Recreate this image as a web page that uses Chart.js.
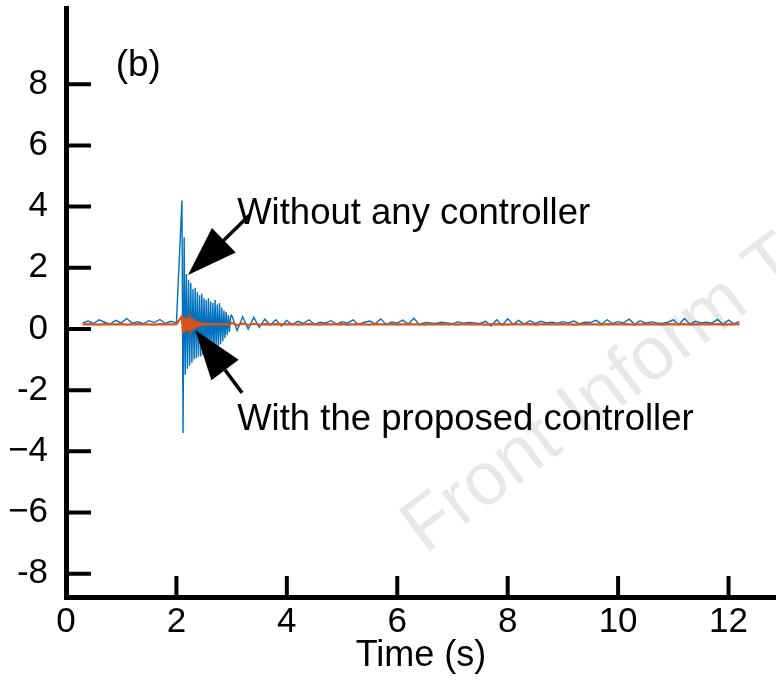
<!DOCTYPE html>
<html>
<head>
<meta charset="utf-8">
<script src="https://cdn.jsdelivr.net/npm/chart.js@4.4.1/dist/chart.umd.min.js"></script>
<style>
  html, body { margin: 0; padding: 0; background: #fff; }
</style>
</head>
<body>
<canvas id="myChart" width="776" height="680"></canvas>
<script>
// sample times (s): coarse before the disturbance, fine through it, coarse after
const timeValues = [
  0.3, 0.4, 0.5, 0.6, 0.7, 0.8, 0.9, 1.0, 1.1, 1.2, 1.3, 1.4, 1.5, 1.6, 1.7, 1.8, 1.9, 2.0,
  2.1, 2.12, 2.14, 2.16, 2.18, 2.2, 2.22, 2.24, 2.26, 2.28, 2.3, 2.32, 2.34, 2.36, 2.38,
  2.4, 2.42, 2.44, 2.46, 2.48, 2.5, 2.52, 2.54, 2.56, 2.58, 2.6, 2.62, 2.64, 2.66, 2.68,
  2.7, 2.72, 2.74, 2.76, 2.78, 2.8, 2.82, 2.84, 2.86, 2.88, 2.9, 2.92, 2.94, 2.96, 2.98,
  3.0, 3.1, 3.2, 3.3, 3.4, 3.5, 3.6, 3.7, 3.8, 3.9,
  4.0, 4.1, 4.2, 4.3, 4.4, 4.5, 4.6, 4.7, 4.8, 4.9,
  5.0, 5.1, 5.2, 5.3, 5.4, 5.5, 5.6, 5.7, 5.8, 5.9,
  6.0, 6.1, 6.2, 6.3, 6.4, 6.5, 6.6, 6.7, 6.8, 6.9,
  7.0, 7.1, 7.2, 7.3, 7.4, 7.5, 7.6, 7.7, 7.8, 7.9,
  8.0, 8.1, 8.2, 8.3, 8.4, 8.5, 8.6, 8.7, 8.8, 8.9,
  9.0, 9.1, 9.2, 9.3, 9.4, 9.5, 9.6, 9.7, 9.8, 9.9,
  10.0, 10.1, 10.2, 10.3, 10.4, 10.5, 10.6, 10.7, 10.8, 10.9,
  11.0, 11.1, 11.2, 11.3, 11.4, 11.5, 11.6, 11.7, 11.8, 11.9,
  12.0, 12.1, 12.2
];

const withoutController = [
  0.2, 0.26, 0.18, 0.3, 0.22, 0.16, 0.28, 0.2, 0.34, 0.19, 0.24, 0.17, 0.27, 0.21, 0.31, 0.18, 0.25, 0.2,
  4.2, -3.4, 3.0, -1.5, 1.8, -1.3, 1.6, -1.2, 1.5, -1.1, 1.3, -1.0, 1.35, -0.95, 1.2,
  -0.9, 1.1, -0.9, 1.15, -0.85, 1.0, -0.8, 0.95, -0.8, 1.0, -0.75, 0.9, -0.7, 0.85, -0.65,
  0.95, -0.6, 0.8, -0.55, 0.85, -0.5, 0.7, -0.4, 0.6, -0.3, 0.55, -0.2, 0.45, -0.1, 0.4,
  0.45, -0.05, 0.4, 0.0, 0.38, 0.05, 0.32, 0.12, 0.3, 0.1,
  0.28, 0.14, 0.25, 0.18, 0.3, 0.15, 0.22, 0.2, 0.27, 0.16,
  0.24, 0.19, 0.3, 0.14, 0.22, 0.26, 0.17, 0.33, 0.15, 0.23,
  0.19, 0.29, 0.16, 0.35, 0.14, 0.21, 0.2, 0.18, 0.22, 0.2,
  0.17, 0.23, 0.19, 0.21, 0.2, 0.18, 0.25, 0.1, 0.3, 0.12,
  0.33, 0.15, 0.28, 0.16, 0.27, 0.18, 0.25, 0.2, 0.22, 0.19,
  0.24, 0.2, 0.26, 0.17, 0.22, 0.21, 0.28, 0.16, 0.3, 0.18,
  0.24, 0.2, 0.32, 0.15, 0.27, 0.19, 0.23, 0.2, 0.18, 0.22,
  0.3, 0.14, 0.34, 0.16, 0.25, 0.2, 0.22, 0.19, 0.31, 0.15,
  0.29, 0.17, 0.24
];

const withProposed = [
  0.15, 0.16, 0.15, 0.14, 0.16, 0.15, 0.15, 0.16, 0.14, 0.15, 0.16, 0.15, 0.15, 0.14, 0.16, 0.15, 0.15, 0.16,
  0.42, -0.13, 0.38, -0.1, 0.33, -0.05, 0.3, 0.0, 0.27, 0.04, 0.24, 0.07, 0.22, 0.09, 0.2,
  0.11, 0.19, 0.12, 0.18, 0.13, 0.17, 0.14, 0.17, 0.14, 0.16, 0.15, 0.16, 0.15, 0.16, 0.15,
  0.15, 0.16, 0.15, 0.15, 0.16, 0.14, 0.15, 0.16, 0.15, 0.15, 0.14, 0.16, 0.15, 0.15, 0.16,
  0.2, 0.12, 0.18, 0.13, 0.17, 0.14, 0.16, 0.15, 0.16, 0.15,
  0.15, 0.16, 0.14, 0.15, 0.16, 0.15, 0.14, 0.16, 0.15, 0.15,
  0.16, 0.14, 0.15, 0.16, 0.15, 0.14, 0.16, 0.15, 0.15, 0.16,
  0.14, 0.15, 0.16, 0.15, 0.15, 0.14, 0.16, 0.15, 0.16, 0.15,
  0.15, 0.14, 0.16, 0.15, 0.15, 0.16, 0.14, 0.15, 0.16, 0.15,
  0.14, 0.16, 0.15, 0.15, 0.16, 0.14, 0.15, 0.16, 0.15, 0.15,
  0.16, 0.15, 0.14, 0.15, 0.16, 0.15, 0.15, 0.14, 0.16, 0.15,
  0.15, 0.16, 0.15, 0.14, 0.15, 0.16, 0.15, 0.15, 0.14, 0.16,
  0.15, 0.15, 0.16, 0.14, 0.15, 0.16, 0.15, 0.15, 0.16, 0.14,
  0.15, 0.16, 0.15
];

const xTicks = [0, 2, 4, 6, 8, 10, 12];
const yTicks = [-8, -6, -4, -2, 0, 2, 4, 6, 8];
const yTickLabels = ["-8", "\u22126", "\u22124", "-2", "0", "2", "4", "6", "8"];

// text labels and arrows, placed in data units (time, value)
const notes = [
  { text: "Without any controller", x: 3.1, y: 3.43, tailX: 3.33, tailY: 3.73, tipX: 2.21, tipY: 1.76 },
  { text: "With the proposed controller", x: 3.1, y: -3.3, tailX: 3.19, tailY: -2.09, tipX: 2.34, tipY: -0.03 }
];

const FONT = "'Liberation Sans', Arial, Helvetica, sans-serif";

function drawArrow(ctx, x1, y1, x2, y2) {
  const ang = Math.atan2(y2 - y1, x2 - x1);
  const headLen = 50, headHalf = 17;
  const bx = x2 - headLen * Math.cos(ang);
  const by = y2 - headLen * Math.sin(ang);
  ctx.strokeStyle = "#000";
  ctx.lineWidth = 3.5;
  ctx.beginPath();
  ctx.moveTo(x1, y1);
  ctx.lineTo(bx, by);
  ctx.stroke();
  ctx.fillStyle = "#000";
  ctx.beginPath();
  ctx.moveTo(x2, y2);
  ctx.lineTo(bx + headHalf * Math.sin(ang), by - headHalf * Math.cos(ang));
  ctx.lineTo(bx - headHalf * Math.sin(ang), by + headHalf * Math.cos(ang));
  ctx.closePath();
  ctx.fill();
}

const extras = {
  id: "extras",
  beforeDraw(chart) {
    const ctx = chart.ctx;
    ctx.save();
    ctx.translate(425, 555);
    ctx.rotate(-37 * Math.PI / 180);
    ctx.font = "75px " + FONT;
    ctx.fillStyle = "rgba(0,0,0,0.09)";
    ctx.textBaseline = "alphabetic";
    ctx.fillText("Front Inform Technol Electron Eng", 0, 0);
    ctx.restore();
  },
  afterDatasetsDraw(chart) {
    const { ctx, chartArea, scales } = chart;
    const xs = scales.x, ys = scales.y;
    ctx.save();
    // inward tick marks
    ctx.strokeStyle = "#000";
    ctx.lineWidth = 4;
    ctx.beginPath();
    yTicks.forEach(v => {
      const py = ys.getPixelForValue(v);
      ctx.moveTo(chartArea.left, py);
      ctx.lineTo(chartArea.left + 25, py);
    });
    xTicks.slice(1).forEach(v => {
      const px = xs.getPixelForValue(v);
      ctx.moveTo(px, chartArea.bottom);
      ctx.lineTo(px, chartArea.bottom - 21);
    });
    ctx.stroke();

    // panel label
    ctx.fillStyle = "#000";
    ctx.font = "37px " + FONT;
    ctx.textBaseline = "middle";
    ctx.fillText("(b)", xs.getPixelForValue(0.9), ys.getPixelForValue(8.6));

    // annotations
    ctx.font = "36.5px " + FONT;
    ctx.textBaseline = "alphabetic";
    notes.forEach(n => {
      ctx.fillStyle = "#000";
      ctx.fillText(n.text, xs.getPixelForValue(n.x), ys.getPixelForValue(n.y));
      drawArrow(ctx,
        xs.getPixelForValue(n.tailX), ys.getPixelForValue(n.tailY),
        xs.getPixelForValue(n.tipX), ys.getPixelForValue(n.tipY));
    });
    ctx.restore();
  }
};

new Chart("myChart", {
  type: "line",
  data: {
    datasets: [
      {
        label: "With the proposed controller",
        data: timeValues.map((t, i) => ({ x: t, y: withProposed[i] })),
        borderColor: "#D95319",
        borderWidth: 2.2,
        pointRadius: 0,
        fill: false,
        order: 0,
      },
      {
        label: "Without any controller",
        data: timeValues.map((t, i) => ({ x: t, y: withoutController[i] })),
        borderColor: "#0072BD",
        borderWidth: 1.4,
        pointRadius: 0,
        fill: false,
        order: 1,
      },
    ],
  },
  options: {
    responsive: false,
    animation: false,
    devicePixelRatio: 1,
    layout: { padding: { top: 8, left: 0, right: 0, bottom: 0 } },
    plugins: { legend: { display: false }, tooltip: { enabled: false } },
    scales: {
      x: {
        type: "linear",
        min: 0,
        max: 12.86,
        afterBuildTicks: s => { s.ticks = xTicks.map(v => ({ value: v })); },
        afterFit: s => { s.height = 83; s.paddingLeft = 0; s.paddingRight = 0; },
        grid: { display: false, drawTicks: false },
        border: { display: true, color: "#000", width: 5 },
        ticks: { padding: 4, autoSkip: false, maxRotation: 0, color: "#000", font: { family: FONT, size: 35 } },
        title: { display: true, text: "Time (s)", color: "#000", padding: { top: 0, bottom: 2 }, font: { family: FONT, size: 36 } },
      },
      y: {
        type: "linear",
        min: -8.76,
        max: 10.49,
        afterBuildTicks: s => { s.ticks = yTicks.map(v => ({ value: v })); },
        afterFit: s => { s.width = 66; s.paddingTop = 0; s.paddingBottom = 0; },
        grid: { display: false, drawTicks: false },
        border: { display: true, color: "#000", width: 5 },
        ticks: {
          padding: 18, autoSkip: false, color: "#000", font: { family: FONT, size: 35 },
          callback: (v, i) => yTickLabels[i],
        },
      },
    },
  },
  plugins: [extras],
});
</script>
</body>
</html>
